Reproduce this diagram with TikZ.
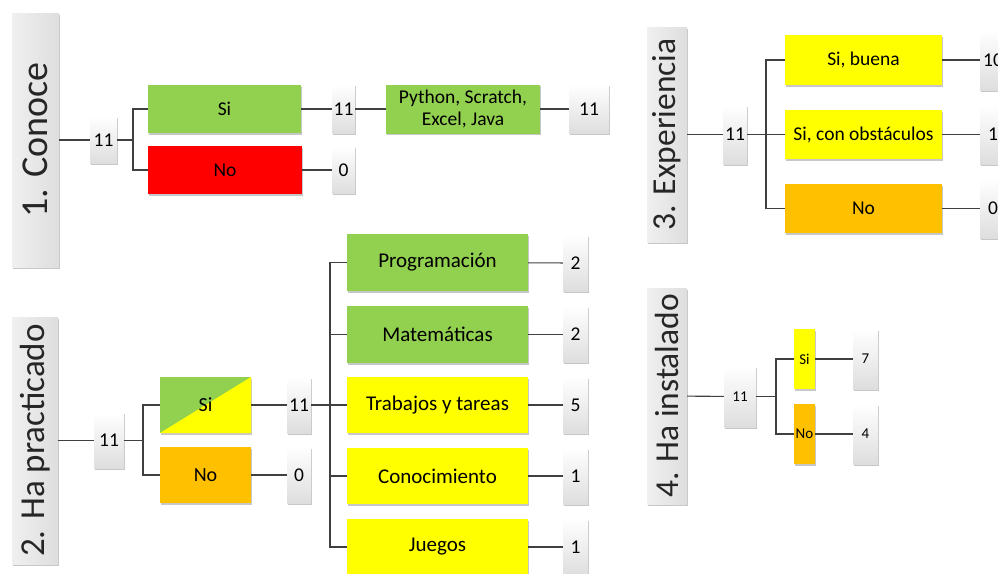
\documentclass[tikz,border=0pt]{standalone}
\usepackage{fontspec}
\setmainfont{Carlito}
\usetikzlibrary{shadows}

\definecolor{lgreen}{HTML}{92D050}
\definecolor{sred}{HTML}{FF0000}
\definecolor{syellow}{HTML}{FFFF00}
\definecolor{sorange}{HTML}{FFC000}
\definecolor{linegray}{HTML}{404040}

\tikzset{
  base/.style={inner sep=0pt, align=center, text=black,
    drop shadow={shadow xshift=1.3pt, shadow yshift=-1.6pt, opacity=0.22, fill=black}},
  catbox/.style={base, font=\fontsize{19.5}{21.5}\selectfont},
  bigcat/.style={base, font=\fontsize{21}{23}\selectfont},
  smallcat/.style={base, font=\fontsize{15}{17}\selectfont},
  cntbox/.style={base, top color=white, bottom color=black!13,
    font=\fontsize{19.5}{21.5}\selectfont},
  smallcnt/.style={cntbox, font=\fontsize{15}{17}\selectfont},
  titlebox/.style={base, left color=black!6, right color=black!13},
  titletext/.style={rotate=90, inner sep=0pt, text=black!85},
  link/.style={draw=linegray, line width=1.1pt},
  splitbox/.style={base, fill=lgreen,
    path picture={\fill[syellow] (path picture bounding box.south west) --
      (path picture bounding box.north east) --
      (path picture bounding box.south east) -- cycle;}},
}

% \boxat{name}{style}{x1}{y1}{x2}{y2}{text}
\newcommand\boxat[7]{%
  \node[#2, minimum width={(#5-#3)*1pt}, minimum height={(#6-#4)*1pt}]
    (#1) at ({(#3+#5)/2},{(#4+#6)/2}) {#7};}

\begin{document}
\begin{tikzpicture}[x=1pt, y=-1pt]
\useasboundingbox (0,0) rectangle (998,573);
\clip (0,0) rectangle (998,573);

% ---------- 1. Conoce ----------
\boxat{t1}{titlebox}{12}{13}{59}{267}{}
\node[titletext, font=\fontsize{38}{38}\selectfont] (t1l) at (t1) {1. Conoce};
\boxat{c1}{cntbox}{90}{116.5}{117}{163.5}{11}
\boxat{si1}{catbox, fill=lgreen}{148}{85}{301}{133}{Si}
\boxat{no1}{catbox, fill=sred}{148}{146}{302}{194}{No}
\boxat{c1a}{cntbox}{332}{84.5}{355}{133.5}{11}
\boxat{c1b}{cntbox}{332}{146.5}{355}{193.5}{0}
\boxat{py}{catbox, fill=lgreen}{386}{84.5}{540}{133.5}{Python, Scratch,\\Excel, Java}
\boxat{c1c}{cntbox}{569}{84.5}{609}{133.5}{11}
\coordinate (b1) at (133,140);
\draw[link] (t1) -- (c1);
\draw[link] (c1) -- (b1) |- (si1);
\draw[link] (b1) |- (no1);
\draw[link] (si1) -- (c1a);
\draw[link] (c1a) -- (py);
\draw[link] (py) -- (c1c);
\draw[link] (no1) -- (c1b);

% ---------- 3. Experiencia ----------
\boxat{t3}{titlebox}{647}{27}{687}{242}{}
\node[titletext, font=\fontsize{33.5}{34}\selectfont] (t3l) at (t3) {3. Experiencia};
\boxat{c3}{cntbox}{723}{105}{747}{164}{11}
\boxat{e1}{catbox, fill=syellow}{785}{35}{942}{85}{Si, buena}
\boxat{e2}{catbox, fill=syellow}{785}{110}{942}{159}{Si, con obstáculos}
\boxat{e3}{catbox, fill=sorange}{785}{184}{942}{233}{No}
\boxat{c3a}{cntbox}{980}{30}{1006}{90}{10}
\boxat{c3b}{cntbox}{980}{105}{1006}{164}{1}
\boxat{c3c}{cntbox}{980}{179}{1006}{238}{0}
\coordinate (b3) at (766,134.5);
\draw[link] (t3) -- (c3);
\draw[link] (c3) -- (b3) |- (e1);
\draw[link] (b3) -- (e2);
\draw[link] (b3) |- (e3);
\draw[link] (e1) -- (c3a);
\draw[link] (e2) -- (c3b);
\draw[link] (e3) -- (c3c);

% ---------- 2. Ha practicado ----------
\boxat{t2}{titlebox}{12}{317}{58}{564}{}
\node[titletext, font=\fontsize{35}{35}\selectfont] (t2l) at (t2) {2. Ha practicado};
\boxat{c2}{cntbox}{94}{412.5}{124}{468.5}{11}
\boxat{si2}{splitbox, font=\fontsize{20}{22}\selectfont}{160}{377}{251}{433}{Si}
\boxat{no2}{catbox, font=\fontsize{20}{22}\selectfont, fill=sorange}{160}{447}{251}{503}{No}
\boxat{c2a}{cntbox}{287}{377}{311}{433}{11}
\boxat{c2b}{cntbox}{287}{447}{311}{503}{0}
\boxat{p1}{bigcat, fill=lgreen}{347}{234}{528}{291}{Programación}
\boxat{p2}{bigcat, fill=lgreen}{347}{306}{528}{363}{Matemáticas}
\boxat{p3}{bigcat, fill=syellow}{347}{377}{528}{433}{Trabajos y tareas}
\boxat{p4}{bigcat, fill=syellow}{347}{448}{528}{504}{Conocimiento}
\boxat{p5}{bigcat, fill=syellow}{347}{519}{528}{575}{Juegos}
\boxat{q1}{cntbox}{563}{235}{588}{291}{2}
\boxat{q2}{cntbox}{563}{306.5}{588}{362.5}{2}
\boxat{q3}{cntbox}{563}{377}{588}{433}{5}
\boxat{q4}{cntbox}{563}{448}{588}{504}{1}
\boxat{q5}{cntbox}{563}{519}{588}{575}{1}
\coordinate (b2) at (143,440.5);
\coordinate (b2b) at (330,405);
\draw[link] (t2) -- (c2);
\draw[link] (c2) -- (b2) |- (si2);
\draw[link] (b2) |- (no2);
\draw[link] (si2) -- (c2a);
\draw[link] (no2) -- (c2b);
\draw[link] (c2a) -- (b2b) |- (p1);
\draw[link] (b2b) |- (p2);
\draw[link] (b2b) -- (p3);
\draw[link] (b2b) |- (p4);
\draw[link] (b2b) |- (p5);
\foreach \i in {1,...,5} { \draw[link] (p\i) -- (q\i); }

% ---------- 4. Ha instalado ----------
\boxat{t4}{titlebox}{647}{288}{687}{504}{}
\node[titletext, font=\fontsize{33.5}{34}\selectfont] (t4l) at (t4) {4. Ha instalado};
\boxat{c4}{smallcnt}{724}{366}{756}{427}{11}
\boxat{si4}{smallcat, fill=syellow}{794}{329}{815}{389}{Si}
\boxat{no4}{smallcat, fill=sorange}{794}{404}{815}{464}{No}
\boxat{c4a}{smallcnt}{853}{329}{878}{389}{7}
\boxat{c4b}{smallcnt}{853}{404}{878}{464}{4}
\coordinate (b4) at (776,396.5);
\draw[link] (t4) -- (c4);
\draw[link] (c4) -- (b4) |- (si4);
\draw[link] (b4) |- (no4);
\draw[link] (si4) -- (c4a);
\draw[link] (no4) -- (c4b);
\end{tikzpicture}
\end{document}
